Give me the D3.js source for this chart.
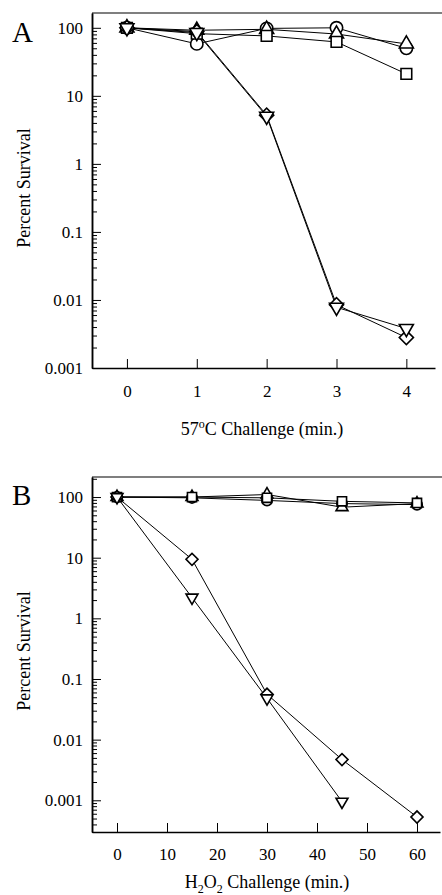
<!DOCTYPE html>
<html>
<head>
<meta charset="utf-8">
<script src="https://cdn.jsdelivr.net/npm/d3@7"></script>
<style>
  body { margin: 0; background: #fff; }
  svg text { font-family: "Liberation Serif", "Times New Roman", "DejaVu Serif", serif; fill: #000; }
</style>
</head>
<body>
<script>
// panel A - heat challenge (minutes at 57C)
var xA = [0, 1, 2, 3, 4];
var circleA  = [100, 58, 98, 100, 50];
var triUpA   = [100, 92, 95, 81, 58];
var squareA  = [100, 82, 76, 62, 21];
var diamondA = [100, 88, 5.2, 0.0085, 0.0028];
var triDownA = [100, 85, 5.0, 0.0078, 0.0038];
var xTicksA = [0, 1, 2, 3, 4];

// panel B - H2O2 challenge (minutes)
var xB = [0, 15, 30, 45, 60];
var circleB  = [100, 97, 88, 78, 75];
var triUpB   = [100, 100, 110, 68, 78];
var squareB  = [100, 100, 97, 85, 80];
var diamondB = [100, 9.4, 0.056, 0.0047, 0.00053];
var triDownB = [100, 2.2, 0.048, 0.00095, null];
var xTicksB = [0, 10, 20, 30, 40, 50, 60];

var yTicks = [100, 10, 1, 0.1, 0.01, 0.001];
var yTickLabels = ["100", "10", "1", "0.1", "0.01", "0.001"];

var serif = "'Liberation Serif', 'Times New Roman', serif";

var svg = d3.select("body").append("svg")
            .attr("width", 442)
            .attr("height", 895)
            .attr("font-family", serif);

function minorTicks(lo, hi) {
  var out = [];
  for (var e = -4; e <= 2; e++) {
    for (var m = 2; m <= 9; m++) {
      var v = m * Math.pow(10, e);
      if (v > lo && v < hi) out.push(v);
    }
  }
  return out;
}

function marker(kind, big) {
  var s = big ? 1 : 0.85;
  if (kind == "circle") return d3.symbol().type(d3.symbolCircle).size(120 * s * s)();
  if (kind == "square") return d3.symbol().type(d3.symbolSquare).size(115 * s * s)();
  if (kind == "diamond") return d3.symbol().type(d3.symbolSquare).size(100 * s * s)();
  return d3.symbol().type(d3.symbolTriangle).size(85 * s * s)();
}

function drawPanel(opt) {
  var g = svg.append("g");
  var x = d3.scaleLinear().domain(opt.xDomain).range([opt.left, opt.right]);
  var y = d3.scaleLog().domain(opt.yDomain).range([opt.bottom, opt.top]);

  // frame top line
  g.append("line")
    .attr("x1", opt.left).attr("x2", 442)
    .attr("y1", opt.top).attr("y2", opt.top)
    .attr("stroke", "#000").attr("stroke-width", 1.2);

  var yAxis = d3.axisLeft(y).tickValues(yTicks)
                .tickFormat(function(d, i) { return yTickLabels[i]; })
                .tickSize(-9).tickSizeOuter(0).tickPadding(9);
  var yMinor = d3.axisLeft(y).tickValues(minorTicks(opt.yDomain[0], opt.yDomain[1]))
                .tickFormat("").tickSize(-5).tickSizeOuter(0);
  var xAxis = d3.axisBottom(x).tickValues(opt.xTicks).tickFormat(d3.format("d"))
                .tickSize(-9).tickSizeOuter(0).tickPadding(opt.xPad);

  [yAxis, yMinor].forEach(function(ax) {
    var a = g.append("g").attr("transform", "translate(" + opt.left + ",0)").call(ax)
             .attr("font-family", serif).attr("font-size", 17);
    a.select(".domain").attr("stroke-width", 1.5);
  });
  var xa = g.append("g").attr("transform", "translate(0," + opt.bottom + ")").call(xAxis)
            .attr("font-family", serif).attr("font-size", 17);
  xa.select(".domain").attr("stroke-width", 1.5);

  // series
  opt.series.forEach(function(s) {
    var pts = [];
    for (var i = 0; i < opt.xs.length; i++) {
      if (s.values[i] != null) pts.push({x: opt.xs[i], y: s.values[i]});
    }
    var line = d3.line().x(function(d) { return x(d.x); }).y(function(d) { return y(d.y); });
    g.append("path").attr("d", line(pts))
      .attr("fill", "none").attr("stroke", "#000").attr("stroke-width", 1);
    s.pts = pts;
  });
  opt.series.forEach(function(s) {
    var rot = s.kind == "diamond" ? 45 : (s.kind == "triDown" ? 180 : 0);
    g.selectAll(null).data(s.pts).enter().append("path")
      .attr("d", marker(s.kind, opt.big))
      .attr("transform", function(d) {
        return "translate(" + x(d.x) + "," + y(d.y) + ") rotate(" + rot + ")";
      })
      .attr("fill", "#fff").attr("stroke", "#000").attr("stroke-width", 1.6);
  });

  // labels
  g.append("text").attr("x", 12).attr("y", opt.letterY)
    .style("font-size", "29px").text(opt.letter);
  g.append("text")
    .attr("transform", "translate(" + 30 + "," + opt.yLabelY + ") rotate(-90)")
    .attr("text-anchor", "middle").style("font-size", "18px")
    .text("Percent Survival");
  var xl = g.append("text").attr("x", opt.xLabelX).attr("y", opt.xLabelY)
    .attr("text-anchor", "middle").style("font-size", "18px");
  opt.xLabel(xl);
}

drawPanel({
  left: 92, right: 435, top: 13, bottom: 368,
  xDomain: [-0.5, 4.41], yDomain: [0.001, 165],
  xTicks: xTicksA, xPad: 17, xs: xA, big: true,
  letter: "A", letterY: 42, yLabelY: 188, xLabelX: 262, xLabelY: 435,
  xLabel: function(t) {
    t.append("tspan").text("57");
    t.append("tspan").attr("dy", -7).style("font-size", "12px").text("o");
    t.append("tspan").attr("dy", 7).text("C Challenge (min.)");
  },
  series: [
    {kind: "circle", values: circleA},
    {kind: "triUp", values: triUpA},
    {kind: "square", values: squareA},
    {kind: "diamond", values: diamondA},
    {kind: "triDown", values: triDownA}
  ]
});

drawPanel({
  left: 92, right: 440, top: 477, bottom: 832,
  xDomain: [-5, 64.6], yDomain: [0.0003, 214],
  xTicks: xTicksB, xPad: 16, xs: xB, big: false,
  letter: "B", letterY: 505, yLabelY: 651, xLabelX: 267, xLabelY: 888,
  xLabel: function(t) {
    t.append("tspan").text("H");
    t.append("tspan").attr("dy", 5).style("font-size", "12px").text("2");
    t.append("tspan").attr("dy", -5).text("O");
    t.append("tspan").attr("dy", 5).style("font-size", "12px").text("2");
    t.append("tspan").attr("dy", -5).text(" Challenge (min.)");
  },
  series: [
    {kind: "circle", values: circleB},
    {kind: "triUp", values: triUpB},
    {kind: "square", values: squareB},
    {kind: "diamond", values: diamondB},
    {kind: "triDown", values: triDownB}
  ]
});
</script>
</body>
</html>
